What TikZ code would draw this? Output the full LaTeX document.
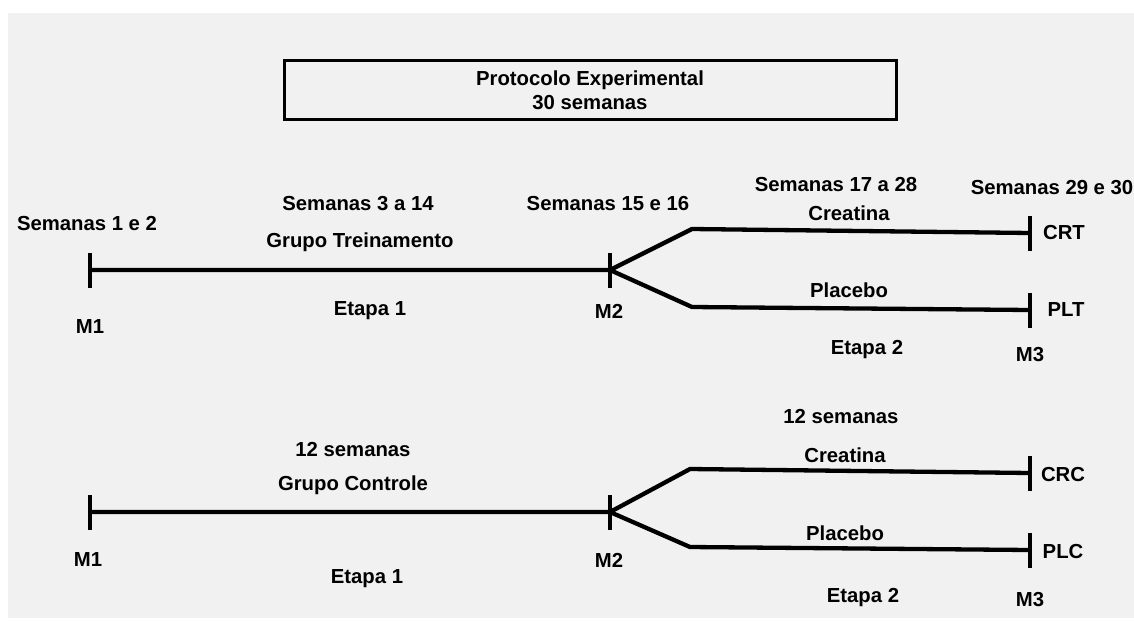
\documentclass[tikz,border=0pt]{standalone}
\usepackage{fontspec}
\setmainfont{Liberation Sans}

\definecolor{panel}{HTML}{F1F1F1}

\tikzset{
	lbl/.style={font=\fontsize{20.3}{24}\selectfont\bfseries, inner sep=0pt},
	track/.style={line width=4.3pt, line join=round},
	tick/.style={line width=4.6pt},
}

\begin{document}
\begin{tikzpicture}[x=1pt,y=-1pt]
	\useasboundingbox (0,0) rectangle (1134,621);
	\fill[panel] (8,13) rectangle (1134,618);

	% Title box
	\node[draw, line width=3pt, minimum width=612pt, minimum height=59pt, align=center,
	      font=\fontsize{20.3}{24}\selectfont\bfseries] (titulo) at (590,90)
	      {Protocolo Experimental\\30 semanas};

	% First, the training group
	\coordinate (m1a) at (90,270);
	\coordinate (m2a) at (610,270);
	\coordinate (cra) at (692,229);
	\coordinate (crt) at (1030,233);
	\coordinate (pla) at (692,307);
	\coordinate (plt) at (1030,310);
	\draw[track] (m1a) -- (m2a) -- (cra) -- (crt);
	\draw[track] (m2a) -- (pla) -- (plt);

	\node[lbl] (sem12) at (87,224) {Semanas 1 e 2};
	\node[lbl] (sem314) at (358,204) {Semanas 3 a 14};
	\node[lbl] (treino) at (360,242) {Grupo Treinamento};
	\node[lbl] (etapa1a) at (370,311) {Etapa 1};
	\node[lbl] (m1alab) at (90,327) {M1};
	\node[lbl] (sem1516) at (608,204) {Semanas 15 e 16};
	\node[lbl] (m2alab) at (609,311) {M2};
	\node[lbl] (sem1728) at (836,185) {Semanas 17 a 28};
	\node[lbl] (creaa) at (849,213) {Creatina};
	\node[lbl] (sem2930) at (1052,188) {Semanas 29 e 30};
	\node[lbl] (crtlab) at (1064,233) {CRT};
	\node[lbl] (placa) at (849,290) {Placebo};
	\node[lbl] (pltlab) at (1066,310) {PLT};
	\node[lbl] (etapa2a) at (867,350) {Etapa 2};
	\node[lbl] (m3alab) at (1030,355) {M3};

	% Second, the control group
	\coordinate (m1b) at (90,512);
	\coordinate (m2b) at (610,512);
	\coordinate (crb) at (690,469);
	\coordinate (crc) at (1030,473);
	\coordinate (plb) at (690,547);
	\coordinate (plc) at (1030,550);
	\draw[track] (m1b) -- (m2b) -- (crb) -- (crc);
	\draw[track] (m2b) -- (plb) -- (plc);

	\node[lbl] (sem12b) at (353,450) {12 semanas};
	\node[lbl] (controle) at (353,485) {Grupo Controle};
	\node[lbl] (m1blab) at (88,560) {M1};
	\node[lbl] (m2blab) at (609,560) {M2};
	\node[lbl] (etapa1b) at (367,579) {Etapa 1};
	\node[lbl] (sem12c) at (841,417) {12 semanas};
	\node[lbl] (creab) at (845,455) {Creatina};
	\node[lbl] (placb) at (845,533) {Placebo};
	\node[lbl] (crclab) at (1063,475) {CRC};
	\node[lbl] (plclab) at (1063,552) {PLC};
	\node[lbl] (etapa2b) at (863,598) {Etapa 2};
	\node[lbl] (m3blab) at (1030,600) {M3};

	% Ticks on every mark
	\foreach \p in {m1a,m2a,crt,plt,m1b,m2b,crc,plc}
		\draw[tick] ([yshift=-17.5pt]\p) -- ([yshift=17.5pt]\p);
\end{tikzpicture}
\end{document}
